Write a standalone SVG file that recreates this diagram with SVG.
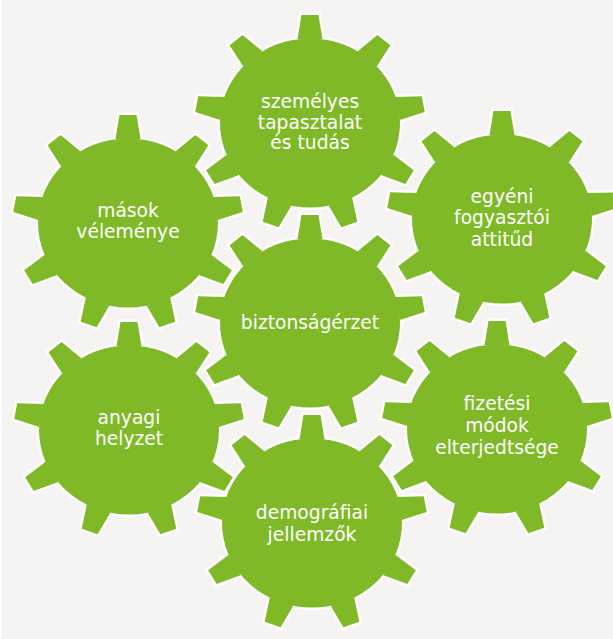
<svg xmlns="http://www.w3.org/2000/svg" xmlns:xlink="http://www.w3.org/1999/xlink" width="613" height="639" viewBox="0 0 613 639">
  <style>
    .rim { fill: #ffffff; stroke: #ffffff; stroke-width: 5; stroke-linejoin: miter; }
    .face { fill: #80b927; }
    .label { font-family: "DejaVu Sans", "Liberation Sans", sans-serif; font-size: 18.7px; fill: #ffffff; text-anchor: middle; }
  </style>
  <defs>
    <!-- nine-tooth gear centred on the origin, first tooth pointing up, slightly flattened -->
    <path id="tooth" d="M-12.5,-89 L-8.5,-115 L8.5,-115 L12.5,-89 Z"/>
    <g id="gear" transform="scale(1,0.94)">
      <circle r="90"/>
      <use xlink:href="#tooth"/>
      <use xlink:href="#tooth" transform="rotate(40)"/>
      <use xlink:href="#tooth" transform="rotate(80)"/>
      <use xlink:href="#tooth" transform="rotate(120)"/>
      <use xlink:href="#tooth" transform="rotate(160)"/>
      <use xlink:href="#tooth" transform="rotate(200)"/>
      <use xlink:href="#tooth" transform="rotate(240)"/>
      <use xlink:href="#tooth" transform="rotate(280)"/>
      <use xlink:href="#tooth" transform="rotate(320)"/>
    </g>
  </defs>

  <rect width="613" height="639" fill="#f5f4f2"/>
  <rect width="1.5" height="639" fill="#ffffff"/>

  <g id="tapasztalat" transform="translate(310,123)">
    <use xlink:href="#gear" class="rim"/>
    <use xlink:href="#gear" class="face"/>
    <text class="label" y="-15">személyes</text>
    <text class="label" y="6">tapasztalat</text>
    <text class="label" y="26">és tudás</text>
  </g>

  <g id="masok" transform="translate(128,223)">
    <use xlink:href="#gear" class="rim"/>
    <use xlink:href="#gear" class="face"/>
    <text class="label" y="-6">mások</text>
    <text class="label" y="15">véleménye</text>
  </g>

  <g id="attitud" transform="translate(502,219)">
    <use xlink:href="#gear" class="rim"/>
    <use xlink:href="#gear" class="face"/>
    <text class="label" y="-16">egyéni</text>
    <text class="label" y="5">fogyasztói</text>
    <text class="label" y="27">attitűd</text>
  </g>

  <g id="biztonsag" transform="translate(310,323)">
    <use xlink:href="#gear" class="rim"/>
    <use xlink:href="#gear" class="face"/>
    <text class="label" y="6">biztonságérzet</text>
  </g>

  <g id="anyagi" transform="translate(129,430)">
    <use xlink:href="#gear" class="rim"/>
    <use xlink:href="#gear" class="face"/>
    <text class="label" y="-6">anyagi</text>
    <text class="label" y="15">helyzet</text>
  </g>

  <g id="fizetesi" transform="translate(497,429)">
    <use xlink:href="#gear" class="rim"/>
    <use xlink:href="#gear" class="face"/>
    <text class="label" y="-19">fizetési</text>
    <text class="label" y="3">módok</text>
    <text class="label" y="25">elterjedtsége</text>
  </g>

  <g id="demografiai" transform="translate(312,523)">
    <use xlink:href="#gear" class="rim"/>
    <use xlink:href="#gear" class="face"/>
    <text class="label" y="-4">demográfiai</text>
    <text class="label" y="18">jellemzők</text>
  </g>
</svg>
